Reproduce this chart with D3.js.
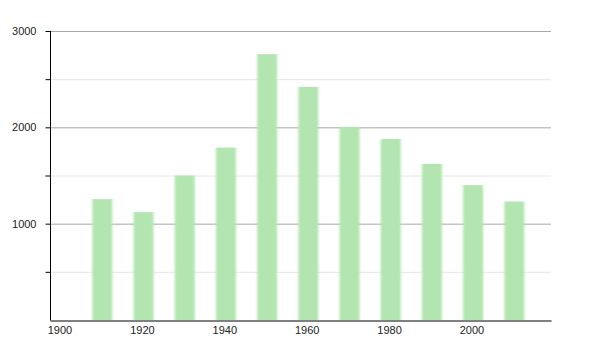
<!DOCTYPE html>
<html>
<head>
<meta charset="utf-8">
<script src="https://d3js.org/d3.v7.min.js"></script>
<style>
  body { margin: 0; background: #fff; }
  svg text { font-family: "Liberation Sans", Arial, sans-serif; font-size: 11px; fill: #222; }
</style>
</head>
<body>
<div class="canvas"></div>
<script>
const years = [1910, 1920, 1930, 1940, 1950, 1960, 1970, 1980, 1990, 2000, 2010];
const population = [1255, 1120, 1500, 1790, 2760, 2420, 2005, 1880, 1620, 1400, 1230];
const majorTicks = [1000, 2000, 3000];
const minorTicks = [500, 1500, 2500];
const yearTicks = [1900, 1920, 1940, 1960, 1980, 2000];

const svg = d3.select('.canvas')
    .append('svg')
    .attr('width', 600)
    .attr('height', 350);

const x = d3.scaleLinear()
    .domain([1897.7, 2019.3])
    .range([50, 551]);

const y = d3.scaleLinear()
    .domain([0, 3000])
    .range([320, 31]);

// soft edge on the bars
svg.append('defs').append('filter')
    .attr('id', 'soft')
    .append('feGaussianBlur')
    .attr('stdDeviation', '0.9 0.3');

// gridlines
svg.selectAll('.minor')
    .data(minorTicks)
    .enter()
    .append('line')
    .attr('x1', 50).attr('x2', 551)
    .attr('y1', d => y(d) + 0.5).attr('y2', d => y(d) + 0.5)
    .attr('stroke', '#e6e6e6');

svg.selectAll('.major')
    .data(majorTicks)
    .enter()
    .append('line')
    .attr('x1', 50).attr('x2', 551)
    .attr('y1', d => y(d) + 0.5).attr('y2', d => y(d) + 0.5)
    .attr('stroke', '#a8a8a8');

// bars
svg.selectAll('rect')
    .data(years)
    .enter()
    .append('rect')
    .attr('x', d => x(d + 0.4) - 10)
    .attr('width', 20)
    .attr('y', (d, i) => y(population[i]))
    .attr('height', (d, i) => y(0) - y(population[i]))
    .attr('fill', '#b3e5b1')
    .attr('filter', 'url(#soft)');

// y axis
const yAxis = d3.axisLeft(y)
    .tickValues(majorTicks.concat(minorTicks))
    .tickFormat(d => majorTicks.includes(d) ? d : '')
    .tickSize(5)
    .tickPadding(9);

svg.append('g')
    .attr('transform', 'translate(50.5,0)')
    .call(yAxis)
    .call(g => g.select('.domain').attr('stroke', '#000').attr('d', 'M0,31V320.5'))
    .call(g => g.selectAll('.tick line').attr('stroke', '#000'))
    .call(g => g.selectAll('text').style('font-size', '11px').attr('fill', '#222'));

// x axis
const xAxis = d3.axisBottom(x)
    .tickValues(yearTicks)
    .tickFormat(d3.format('d'))
    .tickSize(0)
    .tickPadding(6);

svg.append('g')
    .attr('transform', 'translate(0,320.5)')
    .call(xAxis)
    .call(g => g.select('.domain').attr('stroke', '#000'))
    .call(g => g.selectAll('text').style('font-size', '11px').attr('fill', '#222'));
</script>
</body>
</html>
